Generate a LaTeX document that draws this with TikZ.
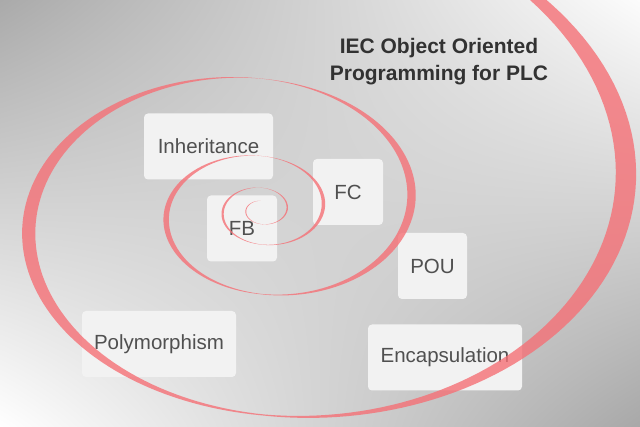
\documentclass[tikz,border=0pt]{standalone}
\usepackage{fontspec}
\setmainfont{Liberation Sans}
\usetikzlibrary{shadings}
\definecolor{bgtl}{RGB}{170,170,170}
\definecolor{bgtr}{RGB}{252,252,252}
\definecolor{bgbl}{RGB}{255,255,255}
\definecolor{bgbr}{RGB}{168,168,168}
\definecolor{boxfill}{RGB}{242,242,242}
\definecolor{boxtext}{RGB}{80,80,80}
\definecolor{titletext}{RGB}{50,50,50}
\definecolor{spiralred}{RGB}{245,112,118}

\begin{document}
\begin{tikzpicture}[x=1pt, y=-1pt,
    box/.style={rectangle, rounded corners=4pt, fill=boxfill, inner sep=0pt, minimum height=66pt, text=boxtext, font=\fontsize{20.5}{24}\selectfont}]
      \clip (0,0) rectangle (640,427);
      \shade[upper left=bgtl, upper right=bgtr, lower left=bgbl, lower right=bgbr] (0,0) rectangle (640,427);

      \node[box, minimum width=129pt] (inheritance) at (208.5,146.5) {Inheritance};
      \node[box, minimum width=70pt] (fc) at (348,192) {FC};
      \node[box, minimum width=70pt] (fb) at (242,228.5) {FB};
      \node[box, minimum width=69pt] (pou) at (432.5,266) {POU};
      \node[box, minimum width=154pt] (poly) at (159,344) {Polymorphism};
      \node[box, minimum width=154pt] (encap) at (445,357.5) {Encapsulation};

      % spiral ribbon, thick at the sides, thin at the bottom, almost gone at the top
      \fill[spiralred, opacity=0.8]
        plot[domain=-4.6:20.4, samples=700, variable=\t]
          ({262+25*exp(0.14155*\t)*(1.0015-0.0012*sin(\t r)+0.0135*(abs(cos(\t r))+cos(\t r)*cos(\t r)))*cos(\t r)},
           {210-0.71*25*exp(0.14155*\t)*(1.0015-0.0012*sin(\t r)+0.0135*(abs(cos(\t r))+cos(\t r)*cos(\t r)))*sin(\t r)})
        -- plot[domain=20.4:-4.6, samples=700, variable=\t]
          ({262+25*exp(0.14155*\t)*(0.9985+0.0012*sin(\t r)-0.0135*(abs(cos(\t r))+cos(\t r)*cos(\t r)))*cos(\t r)},
           {210-0.71*25*exp(0.14155*\t)*(0.9985+0.0012*sin(\t r)-0.0135*(abs(cos(\t r))+cos(\t r)*cos(\t r)))*sin(\t r)})
        -- cycle;

      \node[font=\bfseries\fontsize{21}{27}\selectfont, text=titletext, align=center, anchor=north, inner sep=0pt] (title) at (439,38) {IEC Object Oriented\\Programming for PLC};
    \end{tikzpicture}
\end{document}
